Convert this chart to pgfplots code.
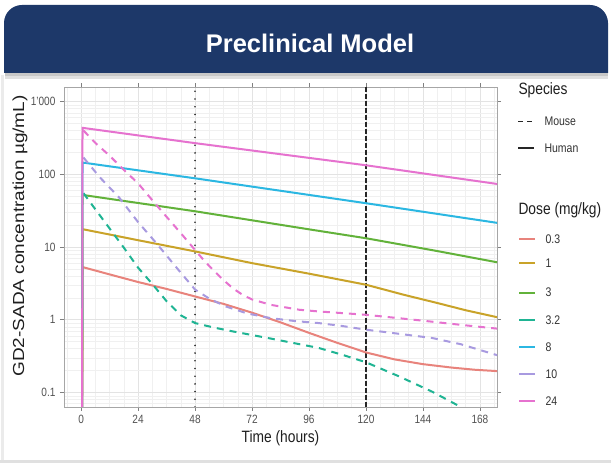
\documentclass[border=0pt]{standalone}
\usepackage{pgfplots}
\pgfplotsset{compat=1.18}
\usepackage{fontspec}
\setmainfont{Liberation Sans}[FakeStretch=0.84]
\newfontfamily\plainsans{Liberation Sans}
\definecolor{navy}{HTML}{1D3869}
\definecolor{cRed}{HTML}{E8837C}
\definecolor{cGold}{HTML}{C9A329}
\definecolor{cGreen}{HTML}{62B23A}
\definecolor{cTeal}{HTML}{1FB493}
\definecolor{cCyan}{HTML}{2BB7E2}
\definecolor{cLav}{HTML}{A89AE0}
\definecolor{cPink}{HTML}{E672CF}
\begin{document}
\begin{tikzpicture}[x=1pt,y=1pt]
\useasboundingbox (0,0) rectangle (611,463);
\fill[white] (0,0) rectangle (611,463);
% frame
\fill[black!12] (0,0) rectangle (611,2.5);
\fill[black!8] (1,2.5) rectangle (3.5,388);
% shadow
\fill[black!12] (5,384) rectangle (608,390);
\fill[black!22] (5,386.5) rectangle (608,390);
% header band
\fill[navy] (4,390) -- (4,440) arc[start angle=180,end angle=90,radius=18] -- (590,458) arc[start angle=90,end angle=0,radius=18] -- (608,390) -- cycle;
\node[text=white] at (310,420) {\plainsans\fontsize{25.5}{26}\selectfont\bfseries Preclinical Model};

\begin{axis}[
  at={(64pt,56pt)}, anchor=south west, scale only axis,
  width=433pt, height=320pt,
  xmin=-7.2, xmax=175.2,
  ymode=log, ymin=0.0631, ymax=1585,
  xtick={0,24,48,72,96,120,144,168},
  xticklabels={0,24,48,72,96,120,144,168},
  minor xtick={-6,6,12,18,30,36,42,54,60,66,78,84,90,102,108,114,126,132,138,150,156,162,174},
  ytick={0.1,1,10,100,1000},
  yticklabels={0.1,1,10,100,1'000},
  minor ytick={0.07,0.08,0.09,0.2,0.3,0.4,0.5,0.6,0.7,0.8,0.9,2,3,4,5,6,7,8,9,20,30,40,50,60,70,80,90,200,300,400,500,600,700,800,900},
  grid=both,
  major grid style={black!11, line width=0.7pt},
  minor grid style={black!6, line width=0.5pt},
  axis line style={black!35, line width=0.6pt},
  tick style={black!50, line width=0.6pt},
  tick align=outside, major tick length=4pt, minor tick length=0pt,
  ticklabel style={font=\fontsize{12}{12}\selectfont, text=black!68},
  xticklabel style={yshift=-1pt},
  yticklabel style={xshift=-1pt},
  clip=true,
]
% reference lines
\addplot[black!85, line width=1.8pt, line cap=round, dash pattern=on 0pt off 7.7pt] coordinates {(48,0.0631) (48,1585)};
\addplot[black!85, line width=1.3pt, dash pattern=on 4.5pt off 2.5pt] coordinates {(120,0.0631) (120,1585)};
% 0.3 human
\addplot[cRed, line width=2pt] coordinates {(0.3,0.0001) (0.6,5.3) (12,4.2) (24,3.3) (36,2.65) (48,2.09) (60,1.65) (72,1.25) (84,0.92) (96,0.66) (108,0.48) (120,0.355) (132,0.285) (144,0.245) (156,0.22) (166,0.205) (176,0.196)};
% 1 human
\addplot[cGold, line width=2pt] coordinates {(0.3,0.0001) (0.6,17.6) (24,12.4) (48,8.7) (72,6.0) (96,4.3) (120,3.03) (136,2.2) (150,1.7) (162,1.35) (176,1.07)};
% 3 human
\addplot[cGreen, line width=2pt] coordinates {(0.3,0.0001) (0.6,52) (48,31) (96,17.5) (120,13.2) (150,8.8) (176,6.1)};
% 3.2 mouse
\addplot[cTeal, line width=2pt, dash pattern=on 7pt off 6pt] coordinates {(1,55) (6,33) (12,18) (18,9.8) (24,5.2) (30,3.1) (36,1.8) (42,1.15) (48,0.9) (56,0.78) (64,0.69) (80,0.55) (100,0.41) (110,0.33) (120,0.26) (134,0.166) (148,0.102) (160,0.063) (168,0.045)};
% 8 human
\addplot[cCyan, line width=2pt] coordinates {(0.3,0.0001) (0.6,145) (48,88) (120,40) (176,21.3)};
% 10 mouse
\addplot[cLav, line width=2pt, dash pattern=on 7pt off 6pt] coordinates {(1,170) (8,90) (16,48) (24,22) (32,11) (40,5.3) (48,2.6) (54,1.95) (61,1.52) (70,1.22) (80,1.05) (90,0.96) (100,0.9) (110,0.82) (120,0.73) (134,0.64) (148,0.56) (160,0.46) (176,0.32)};
% 24 mouse
\addplot[cPink, line width=2pt, dash pattern=on 7pt off 6pt] coordinates {(1,400) (6,270) (12,180) (18,115) (24,75) (30,44) (36,26) (42,15.5) (48,9.1) (52,6.4) (56,4.7) (60,3.5) (64,2.7) (68,2.2) (72,1.9) (80,1.6) (92,1.37) (100,1.3) (120,1.17) (144,0.97) (160,0.85) (176,0.75)};
% 24 human
\addplot[cPink, line width=2pt] coordinates {(0.3,0.0001) (0.6,435) (48,268) (120,133) (176,73)};
\end{axis}

% axis titles
\node at (280.5,25) {\fontsize{16.4}{17}\selectfont\color{black!88}Time (hours)};
\node[rotate=90] at (20,227) {\scalebox{1}[0.84]{\plainsans\fontsize{19}{20}\selectfont\color{black!88}GD2-SADA concentration µg/mL)}};

% legend
\node[anchor=west] at (515,373) {\fontsize{16.4}{17}\selectfont\color{black!88}Species};
\draw[black!85, line width=1.6pt, dash pattern=on 5pt off 4pt] (518,341.3) -- (534,341.3);
\node[anchor=west] at (541,341.3) {\fontsize{12.5}{13}\selectfont\color{black!80}Mouse};
\draw[black!85, line width=1.6pt] (518,315) -- (534,315);
\node[anchor=west] at (541,315) {\fontsize{12.5}{13}\selectfont\color{black!80}Human};
\node[anchor=west] at (515,253) {\fontsize{16.4}{17}\selectfont\color{black!88}Dose (mg/kg)};
\foreach \yy/\cc/\tt in {224/cRed/0.3, 199.7/cGold/1, 170.3/cGreen/3, 143/cTeal/3.2, 115.7/cCyan/8, 88.7/cLav/10, 62/cPink/24}{
  \draw[\cc, line width=1.8pt] (519,\yy) -- (535,\yy);
  \node[anchor=west] at (542,\yy) {\fontsize{12.5}{13}\selectfont\color{black!80}\tt};
}
\end{tikzpicture}
\end{document}
